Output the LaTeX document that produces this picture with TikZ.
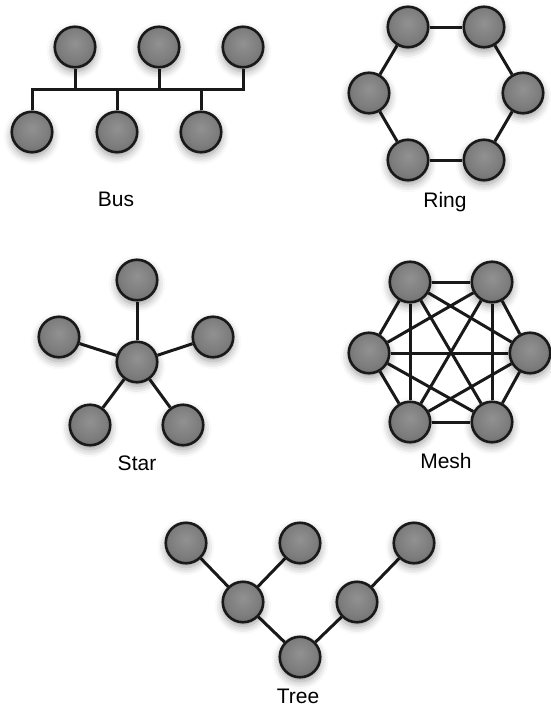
\documentclass[tikz,border=0pt]{standalone}
\usepackage{fontspec}
\setmainfont{Liberation Sans}
\usetikzlibrary{shadows.blur,backgrounds}
\pgfdeclareradialshading{nodeshade}{\pgfpoint{0bp}{5bp}}{rgb(0bp)=(0.57,0.57,0.57); rgb(20bp)=(0.49,0.49,0.49); rgb(42bp)=(0.36,0.36,0.36); rgb(50bp)=(0.30,0.30,0.30)}
\tikzset{
  host/.style={circle, minimum size=40.5pt, inner sep=0pt, draw=black!90, line width=2.6pt,
    shade, shading=nodeshade,
    blur shadow={shadow xshift=0pt, shadow yshift=-4pt, shadow blur radius=8pt, shadow opacity=40}},
  link/.style={line width=3pt, draw=black!90},
  lbl/.style={font=\fontsize{21}{24}\selectfont, inner sep=0pt, anchor=base}
}
\begin{document}
\begin{tikzpicture}[x=1pt,y=-1pt]
\useasboundingbox (0,0) rectangle (550,707);
% ---------- Bus ----------
\node[host] (bt1) at (75,47) {};
\node[host] (bt2) at (159,47) {};
\node[host] (bt3) at (243,47) {};
\node[host] (bb1) at (32,132) {};
\node[host] (bb2) at (117,132) {};
\node[host] (bb3) at (201,132) {};
\coordinate (busy) at (0,89);
\node[lbl] (buslbl) at (116,206) {Bus};
% ---------- Ring ----------
\node[host] (r1) at (408,27) {};
\node[host] (r2) at (484,27) {};
\node[host] (r3) at (523,93) {};
\node[host] (r4) at (484,160) {};
\node[host] (r5) at (408,160) {};
\node[host] (r6) at (369,93) {};
\node[lbl] (ringlbl) at (445,207) {Ring};
% ---------- Star ----------
\node[host] (sc) at (137,362) {};
\node[host] (s1) at (137,280) {};
\node[host] (s2) at (213,337) {};
\node[host] (s3) at (183,425) {};
\node[host] (s4) at (90,425) {};
\node[host] (s5) at (59,337) {};
\node[lbl] (starlbl) at (137,470) {Star};
% ---------- Mesh ----------
\node[host] (m1) at (410,282) {};
\node[host] (m2) at (492,282) {};
\node[host] (m3) at (530,353) {};
\node[host] (m4) at (492,422) {};
\node[host] (m5) at (410,422) {};
\node[host] (m6) at (369,353) {};
\node[lbl] (meshlbl) at (446,468) {Mesh};
% ---------- Tree ----------
\node[host] (t1) at (186,543) {};
\node[host] (t2) at (300,543) {};
\node[host] (t3) at (414,543) {};
\node[host] (tl) at (243,602) {};
\node[host] (tr) at (357,602) {};
\node[host] (tb) at (300,657) {};
\node[lbl] (treelbl) at (298,703) {Tree};
% ---------- Connectors ----------
\begin{pgfonlayer}{background}
  % bus
  \draw[link] (bb1) -- (bb1 |- busy) -- (bt3 |- busy) -- (bt3);
  \foreach \n in {bt1,bt2,bb2,bb3} \draw[link] (\n) -- (\n |- busy);
  % ring
  \draw[link] (r1) -- (r2);
  \draw[link] (r2) -- (r3);
  \draw[link] (r3) -- (r4);
  \draw[link] (r4) -- (r5);
  \draw[link] (r5) -- (r6);
  \draw[link] (r6) -- (r1);
  % star
  \foreach \n in {s1,s2,s3,s4,s5} \draw[link] (sc) -- (\n);
  % mesh
  \foreach \a/\b in {m1/m2,m1/m3,m1/m4,m1/m5,m1/m6,m2/m3,m2/m4,m2/m5,m2/m6,m3/m4,m3/m5,m3/m6,m4/m5,m4/m6,m5/m6}
    \draw[link] (\a) -- (\b);
  % tree
  \draw[link] (t1) -- (tl);
  \draw[link] (t2) -- (tl);
  \draw[link] (tl) -- (tb);
  \draw[link] (tb) -- (tr);
  \draw[link] (tr) -- (t3);
\end{pgfonlayer}
\end{tikzpicture}
\end{document}
